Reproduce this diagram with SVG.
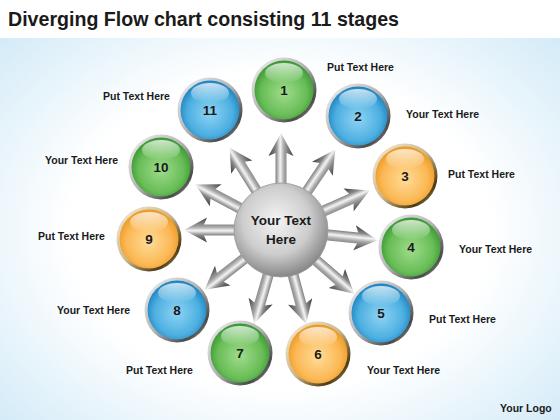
<svg xmlns="http://www.w3.org/2000/svg" xmlns:xlink="http://www.w3.org/1999/xlink" width="560" height="420" viewBox="0 0 560 420">
<style>
.t{font-family:"Liberation Sans",Arial,sans-serif;font-weight:bold;fill:#1a1a1a}
.lbl{font-size:10.5px}
.num{font-size:13.5px;text-anchor:middle}
.ctr{font-size:13.5px;text-anchor:middle}
</style>
<defs>
<radialGradient id="bg" cx="50%" cy="55%" r="75%">
<stop offset="0" stop-color="#ffffff"/>
<stop offset="0.5" stop-color="#ffffff"/>
<stop offset="1" stop-color="#c9e6f6"/>
</radialGradient>
<linearGradient id="ring" x1="0" y1="0" x2="1" y2="1">
<stop offset="0" stop-color="#f4f4f4"/>
<stop offset="0.5" stop-color="#b0b0b0"/>
<stop offset="0.8" stop-color="#4a4a4a"/>
<stop offset="1" stop-color="#c0c0c0"/>
</linearGradient>
<linearGradient id="ringGold" x1="0" y1="0" x2="1" y2="1">
<stop offset="0" stop-color="#f6f0e0"/>
<stop offset="0.5" stop-color="#c9b58a"/>
<stop offset="0.8" stop-color="#4e3a12"/>
<stop offset="1" stop-color="#d6c7a0"/>
</linearGradient>
<radialGradient id="gGreen" cx="50%" cy="55%" r="55%">
<stop offset="0" stop-color="#9fdc8c"/>
<stop offset="0.7" stop-color="#68bd56"/>
<stop offset="1" stop-color="#389632"/>
</radialGradient>
<radialGradient id="gBlue" cx="50%" cy="55%" r="55%">
<stop offset="0" stop-color="#8fd3f3"/>
<stop offset="0.7" stop-color="#4cafe1"/>
<stop offset="1" stop-color="#1c82c0"/>
</radialGradient>
<radialGradient id="gOrange" cx="50%" cy="55%" r="55%">
<stop offset="0" stop-color="#ffdc98"/>
<stop offset="0.7" stop-color="#fbb855"/>
<stop offset="1" stop-color="#ec981f"/>
</radialGradient>
<linearGradient id="shine" x1="0" y1="0" x2="0" y2="1">
<stop offset="0" stop-color="#ffffff" stop-opacity="0.75"/>
<stop offset="1" stop-color="#ffffff" stop-opacity="0"/>
</linearGradient>
<radialGradient id="gCenter" cx="45%" cy="40%" r="60%">
<stop offset="0" stop-color="#f4f4f4"/>
<stop offset="0.6" stop-color="#cdcdcd"/>
<stop offset="1" stop-color="#888888"/>
</radialGradient>
<linearGradient id="gArrow" x1="0" y1="0" x2="0" y2="1">
<stop offset="0" stop-color="#3a3a3a"/>
<stop offset="0.3" stop-color="#8a8a8a"/>
<stop offset="0.47" stop-color="#f4f4f4"/>
<stop offset="0.62" stop-color="#a8a8a8"/>
<stop offset="1" stop-color="#404040"/>
</linearGradient>
<path id="arr" d="M 35 -5.5 L 77 -5.5 L 74 -12.5 L 97 0 L 74 12.5 L 77 5.5 L 35 5.5 Z" fill="url(#gArrow)"/>
</defs>

<rect width="560" height="420" fill="url(#bg)"/>
<rect width="560" height="38" fill="#ffffff"/>

<text class="t" x="8" y="26" font-size="21" textLength="391" lengthAdjust="spacingAndGlyphs">Diverging Flow chart consisting 11 stages</text>

<g id="connectors" transform="translate(281,230)">
<use xlink:href="#arr" transform="rotate(-90)"/>
<use xlink:href="#arr" transform="rotate(-56)"/>
<use xlink:href="#arr" transform="rotate(-24)"/>
<use xlink:href="#arr" transform="rotate(6)"/>
<use xlink:href="#arr" transform="rotate(41)"/>
<use xlink:href="#arr" transform="rotate(75)"/>
<use xlink:href="#arr" transform="rotate(106)"/>
<use xlink:href="#arr" transform="rotate(142)"/>
<use xlink:href="#arr" transform="rotate(180)"/>
<use xlink:href="#arr" transform="rotate(208)"/>
<use xlink:href="#arr" transform="rotate(238)"/>
</g>

<g id="center">
<circle cx="281" cy="230" r="47" fill="url(#gCenter)" stroke="#9a9a9a" stroke-width="0.8"/>
<text class="t ctr" x="281" y="225">Your Text</text>
<text class="t ctr" x="281" y="244">Here</text>
</g>

<g id="node1" transform="translate(284,90)">
<circle r="32.5" fill="url(#ring)"/><circle r="29.5" fill="url(#gGreen)"/>
<ellipse cx="0" cy="-17" rx="19" ry="10" fill="url(#shine)"/>
<text class="t num" y="5">1</text>
</g>
<g id="node2" transform="translate(358,116)">
<circle r="32.5" fill="url(#ring)"/><circle r="29.5" fill="url(#gBlue)"/>
<ellipse cx="0" cy="-17" rx="19" ry="10" fill="url(#shine)"/>
<text class="t num" y="5">2</text>
</g>
<g id="node3" transform="translate(405,176)">
<circle r="32.5" fill="url(#ringGold)"/><circle r="29.5" fill="url(#gOrange)"/>
<ellipse cx="0" cy="-17" rx="19" ry="10" fill="url(#shine)"/>
<text class="t num" y="5">3</text>
</g>
<g id="node4" transform="translate(411,247)">
<circle r="32.5" fill="url(#ring)"/><circle r="29.5" fill="url(#gGreen)"/>
<ellipse cx="0" cy="-17" rx="19" ry="10" fill="url(#shine)"/>
<text class="t num" y="5">4</text>
</g>
<g id="node5" transform="translate(381,313)">
<circle r="32.5" fill="url(#ring)"/><circle r="29.5" fill="url(#gBlue)"/>
<ellipse cx="0" cy="-17" rx="19" ry="10" fill="url(#shine)"/>
<text class="t num" y="5">5</text>
</g>
<g id="node6" transform="translate(318,354)">
<circle r="32.5" fill="url(#ringGold)"/><circle r="29.5" fill="url(#gOrange)"/>
<ellipse cx="0" cy="-17" rx="19" ry="10" fill="url(#shine)"/>
<text class="t num" y="5">6</text>
</g>
<g id="node7" transform="translate(240,353)">
<circle r="32.5" fill="url(#ring)"/><circle r="29.5" fill="url(#gGreen)"/>
<ellipse cx="0" cy="-17" rx="19" ry="10" fill="url(#shine)"/>
<text class="t num" y="5">7</text>
</g>
<g id="node8" transform="translate(177,310)">
<circle r="32.5" fill="url(#ring)"/><circle r="29.5" fill="url(#gBlue)"/>
<ellipse cx="0" cy="-17" rx="19" ry="10" fill="url(#shine)"/>
<text class="t num" y="5">8</text>
</g>
<g id="node9" transform="translate(149,239)">
<circle r="32.5" fill="url(#ringGold)"/><circle r="29.5" fill="url(#gOrange)"/>
<ellipse cx="0" cy="-17" rx="19" ry="10" fill="url(#shine)"/>
<text class="t num" y="5">9</text>
</g>
<g id="node10" transform="translate(161,167)">
<circle r="32.5" fill="url(#ring)"/><circle r="29.5" fill="url(#gGreen)"/>
<ellipse cx="0" cy="-17" rx="19" ry="10" fill="url(#shine)"/>
<text class="t num" y="5">10</text>
</g>
<g id="node11" transform="translate(210,110)">
<circle r="32.5" fill="url(#ring)"/><circle r="29.5" fill="url(#gBlue)"/>
<ellipse cx="0" cy="-17" rx="19" ry="10" fill="url(#shine)"/>
<text class="t num" y="5">11</text>
</g>

<g id="labels">
<text class="t lbl" x="327" y="71">Put Text Here</text>
<text class="t lbl" x="406" y="118">Your Text Here</text>
<text class="t lbl" x="448" y="178">Put Text Here</text>
<text class="t lbl" x="459" y="253">Your Text Here</text>
<text class="t lbl" x="429" y="323">Put Text Here</text>
<text class="t lbl" x="367" y="374">Your Text Here</text>
<text class="t lbl" x="126" y="374">Put Text Here</text>
<text class="t lbl" x="57" y="314">Your Text Here</text>
<text class="t lbl" x="38" y="240">Put Text Here</text>
<text class="t lbl" x="45" y="164">Your Text Here</text>
<text class="t lbl" x="103" y="100">Put Text Here</text>
<text class="t lbl" x="500" y="412">Your Logo</text>
</g>
</svg>
